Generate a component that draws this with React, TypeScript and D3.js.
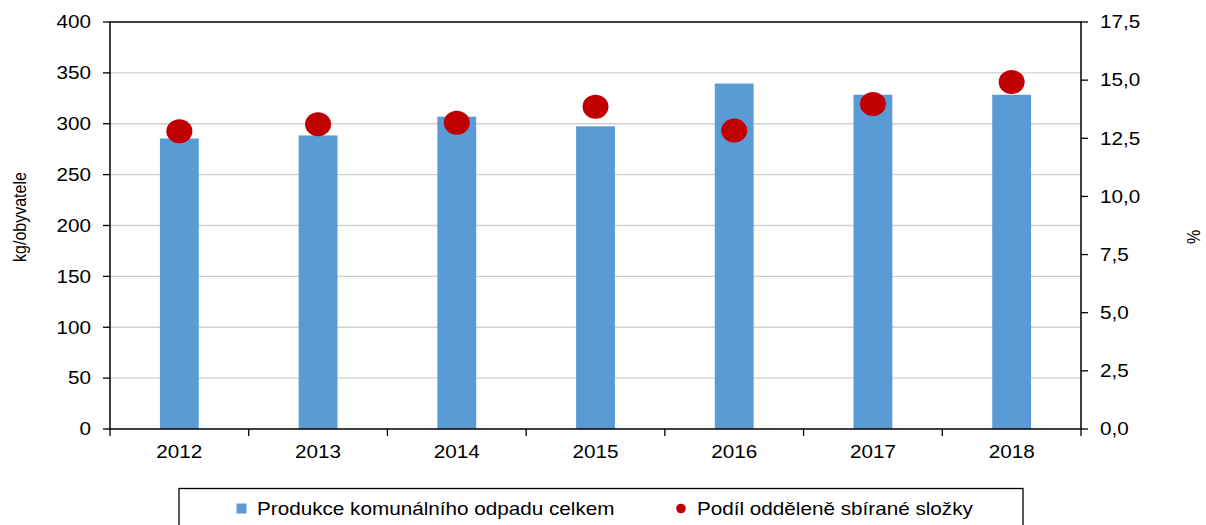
import React from 'react';
import * as d3 from 'd3';

// data
const years = ['2012', '2013', '2014', '2015', '2016', '2017', '2018'];
const production = [285.5, 288.5, 307, 297.5, 339.5, 328.5, 328.5]; // kg/obyvatele
const separatedShare = [12.8, 13.1, 13.17, 13.86, 12.83, 13.97, 14.92]; // %
const leftTicks = [0, 50, 100, 150, 200, 250, 300, 350, 400];
const rightTicks = [0, 2.5, 5, 7.5, 10, 12.5, 15, 17.5];
const seriesNames = ['Produkce komunálního odpadu celkem', 'Podíl odděleně sbírané složky'];

const W = 1206;
const H = 525;
const margin = { top: 22, right: 125, bottom: 96, left: 110 };
const font = '"Liberation Sans", Arial, sans-serif';
const barColor = '#5b9bd5';
const dotColor = '#c00000';
const stretch = 1.15; // the reference text is a little wider than normal

// horizontal label, slightly stretched like the original
const Label = ({ x, y, anchor = 'start', children }: { x: number; y: number; anchor?: string; children: React.ReactNode }) => (
  <g transform={`translate(${x},${y}) scale(${stretch},1)`}>
    <text dy="0.35em" textAnchor={anchor} fontSize={18} fill="#000">{children}</text>
  </g>
);

const App = () => {
  const x = d3.scaleBand().domain(years).range([margin.left, W - margin.right]);
  const yL = d3.scaleLinear().domain([0, 400]).range([H - margin.bottom, margin.top]);
  const yR = d3.scaleLinear().domain([0, 17.5]).range([H - margin.bottom, margin.top]);
  const x0 = margin.left;
  const x1 = W - margin.right;
  const y0 = H - margin.bottom;
  const barW = x.bandwidth() * 0.28;
  const fmt = (v: number) => v.toFixed(1).replace('.', ',');

  return (
    <svg width={W} height={H} style={{ position: 'absolute', left: 0, top: 0 }} fontFamily={font}>
      <rect width={W} height={H} fill="#fff" />
      {/* gridlines */}
      {leftTicks.filter(t => t > 0 && t < 400).map(t => (
        <line key={'g' + t} x1={x0} x2={x1} y1={yL(t)} y2={yL(t)} stroke="#d0d0d0" strokeWidth={1.3} />
      ))}
      {/* bars */}
      {years.map((yr, i) => (
        <rect key={'b' + yr} x={x(yr)! + x.bandwidth() / 2 - barW / 2} y={yL(production[i])}
          width={barW} height={y0 - yL(production[i])} fill={barColor} />
      ))}
      {/* frame */}
      <rect x={x0} y={margin.top} width={x1 - x0} height={y0 - margin.top} fill="none" stroke="#000" strokeWidth={1.5} />
      {/* left axis */}
      {leftTicks.map(t => (
        <g key={'l' + t}>
          <line x1={x0 - 7} x2={x0} y1={yL(t)} y2={yL(t)} stroke="#000" strokeWidth={1.3} />
          <Label x={x0 - 19} y={yL(t)} anchor="end">{t}</Label>
        </g>
      ))}
      {/* right axis */}
      {rightTicks.map(t => (
        <g key={'r' + t}>
          <line x1={x1} x2={x1 + 7} y1={yR(t)} y2={yR(t)} stroke="#000" strokeWidth={1.3} />
          <Label x={x1 + 19}  y={yR(t)}>{fmt(t)}</Label>
        </g>
      ))}
      {/* x axis */}
      {years.map(yr => (
        <line key={'t' + yr} x1={x(yr)!} x2={x(yr)!} y1={y0} y2={y0 + 7} stroke="#000" strokeWidth={1.3} />
      ))}
      <line x1={x1} x2={x1} y1={y0} y2={y0 + 7} stroke="#000" strokeWidth={1.3} />
      {years.map(yr => (
        <Label key={'x' + yr} x={x(yr)! + x.bandwidth() / 2} y={y0 + 23} anchor="middle">{yr}</Label>
      ))}
      {/* dots */}
      {years.map((yr, i) => (
        <ellipse key={'d' + yr} cx={x(yr)! + x.bandwidth() / 2} cy={yR(separatedShare[i])} rx={13} ry={12} fill={dotColor} />
      ))}
      {/* axis titles */}
      <text transform={`translate(20,217) scale(${stretch},1) rotate(-90)`} dy="0.35em" textAnchor="middle" fontSize={16} fill="#000">kg/obyvatele</text>
      <text transform={`translate(1194,237) scale(${stretch},1) rotate(-90)`} dy="0.35em" textAnchor="middle" fontSize={16} fill="#000">%</text>
      {/* legend */}
      <rect x={179} y={488.5} width={844} height={60} fill="#fff" stroke="#000" strokeWidth={1.3} />
      <rect x={236.5} y={503.5} width={10} height={10} fill={barColor} />
      <Label x={257} y={508.5}>{seriesNames[0]}</Label>
      <circle cx={681} cy={508.5} r={4.8} fill={dotColor} />
      <Label x={697} y={508.5}>{seriesNames[1]}</Label>
    </svg>
  );
};

export default App;
